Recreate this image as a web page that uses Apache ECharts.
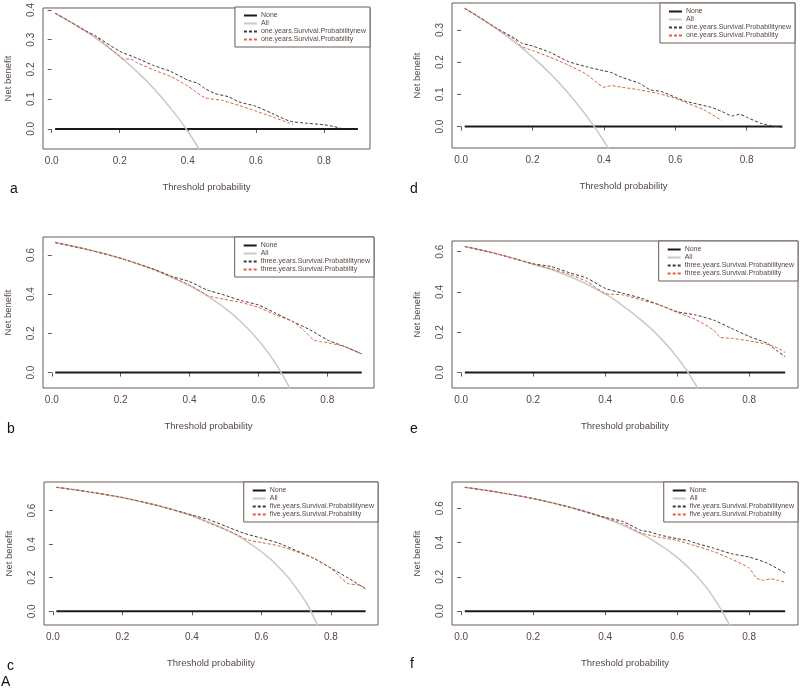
<!DOCTYPE html>
<html>
<head>
<meta charset="utf-8">
<script src="https://cdn.jsdelivr.net/npm/echarts@6/dist/echarts.min.js"></script>
<style>
html,body{margin:0;padding:0;background:#fff;}
#chart{width:800px;height:690px;}
</style>
</head>
<body>
<div id="chart"></div>
<script>
// ---------- Data ----------
const none_x = [0.01, 0.9];
const none_y = [0, 0];

// Panel a : one year (left)
const a_all_x = [0.01,0.05,0.1,0.15,0.2,0.25,0.3,0.35,0.4,0.45,0.5];
const a_all_y = [0.389,0.363,0.328,0.288,0.244,0.193,0.136,0.069,-0.008,-0.10,-0.21];
const a_new_x = [0.01,0.05,0.1,0.13,0.2,0.25,0.3,0.35,0.4,0.43,0.45,0.48,0.52,0.55,0.6,0.65,0.7,0.75,0.8,0.83,0.85];
const a_new_y = [0.389,0.363,0.330,0.312,0.261,0.238,0.213,0.193,0.164,0.153,0.136,0.119,0.108,0.091,0.076,0.051,0.026,0.019,0.014,0.008,0.002];
const a_old_x = [0.01,0.05,0.1,0.13,0.2,0.21,0.23,0.25,0.3,0.35,0.4,0.45,0.5,0.55,0.6,0.65,0.7,0.71];
const a_old_y = [0.389,0.363,0.328,0.310,0.244,0.235,0.235,0.223,0.198,0.176,0.144,0.105,0.096,0.079,0.060,0.040,0.019,0.015];

// Panel d : one year (right)
const d_all_x = [0.01,0.05,0.1,0.15,0.2,0.25,0.3,0.35,0.4,0.45,0.5];
const d_all_y = [0.367,0.340,0.303,0.262,0.216,0.164,0.104,0.035,-0.045,-0.140,-0.254];
const d_new_x = [0.01,0.05,0.1,0.15,0.17,0.2,0.25,0.3,0.35,0.4,0.42,0.45,0.5,0.53,0.56,0.6,0.63,0.7,0.73,0.76,0.78,0.8,0.84,0.87,0.9];
const d_new_y = [0.367,0.340,0.305,0.274,0.259,0.250,0.230,0.202,0.186,0.173,0.168,0.153,0.134,0.114,0.109,0.091,0.078,0.060,0.047,0.033,0.038,0.029,0.010,0.002,-0.002];
const d_old_x = [0.01,0.05,0.1,0.15,0.17,0.2,0.25,0.3,0.35,0.38,0.4,0.42,0.45,0.5,0.55,0.6,0.63,0.68,0.73];
const d_old_y = [0.367,0.340,0.304,0.270,0.248,0.236,0.215,0.191,0.163,0.137,0.122,0.127,0.122,0.114,0.103,0.088,0.074,0.052,0.019];

// Panel b : three years (left)
const b_all_x = [0.01,0.1,0.2,0.3,0.4,0.45,0.5,0.55,0.6,0.65,0.7,0.75];
const b_all_y = [0.663,0.629,0.583,0.523,0.443,0.393,0.332,0.258,0.165,0.046,-0.113,-0.336];
const b_new_x = [0.01,0.1,0.2,0.3,0.35,0.4,0.45,0.5,0.55,0.6,0.65,0.7,0.75,0.8,0.85,0.9];
const b_new_y = [0.663,0.629,0.583,0.525,0.490,0.464,0.422,0.396,0.367,0.345,0.303,0.260,0.218,0.167,0.133,0.095];
const b_old_x = [0.01,0.1,0.2,0.3,0.35,0.4,0.45,0.46,0.5,0.55,0.6,0.65,0.7,0.73,0.76,0.78,0.8,0.85,0.9];
const b_old_y = [0.663,0.629,0.583,0.522,0.485,0.447,0.396,0.388,0.374,0.357,0.333,0.294,0.260,0.218,0.167,0.158,0.153,0.133,0.095];

// Panel e : three years (right)
const e_all_x = [0.01,0.1,0.2,0.3,0.4,0.45,0.5,0.55,0.6,0.65,0.7];
const e_all_y = [0.626,0.589,0.538,0.478,0.390,0.330,0.260,0.178,0.075,-0.057,-0.233];
const e_new_x = [0.01,0.1,0.2,0.25,0.3,0.35,0.4,0.45,0.5,0.55,0.6,0.65,0.7,0.75,0.8,0.85,0.88,0.9];
const e_new_y = [0.626,0.589,0.540,0.526,0.496,0.468,0.418,0.393,0.369,0.336,0.302,0.286,0.261,0.220,0.179,0.145,0.104,0.079];
const e_old_x = [0.01,0.1,0.2,0.25,0.3,0.35,0.4,0.45,0.5,0.55,0.6,0.65,0.7,0.72,0.75,0.8,0.85,0.88,0.9];
const e_old_y = [0.626,0.589,0.538,0.515,0.488,0.451,0.393,0.385,0.360,0.336,0.298,0.264,0.212,0.175,0.170,0.157,0.140,0.121,0.099];

// Panel c : five years (left)
const c_all_x = [0.01,0.1,0.2,0.3,0.4,0.5,0.55,0.6,0.65,0.7,0.75,0.8];
const c_all_y = [0.739,0.713,0.678,0.631,0.570,0.484,0.427,0.355,0.263,0.140,-0.032,-0.290];
const c_new_x = [0.01,0.1,0.2,0.3,0.4,0.45,0.5,0.55,0.6,0.65,0.7,0.75,0.8,0.85,0.9];
const c_new_y = [0.739,0.713,0.678,0.631,0.574,0.545,0.505,0.465,0.436,0.406,0.362,0.317,0.257,0.198,0.133];
const c_old_x = [0.01,0.1,0.2,0.3,0.4,0.45,0.5,0.55,0.56,0.6,0.65,0.7,0.75,0.8,0.83,0.85,0.88,0.9];
const c_old_y = [0.739,0.713,0.678,0.631,0.570,0.525,0.485,0.436,0.426,0.410,0.390,0.356,0.317,0.257,0.198,0.164,0.158,0.139];

// Panel f : five years (right)
const f_all_x = [0.01,0.1,0.2,0.3,0.4,0.5,0.55,0.6,0.65,0.7,0.75];
const f_all_y = [0.722,0.694,0.656,0.607,0.542,0.450,0.389,0.313,0.214,0.083,-0.100];
const f_new_x = [0.01,0.1,0.2,0.3,0.4,0.45,0.5,0.52,0.55,0.6,0.63,0.65,0.7,0.75,0.8,0.85,0.9];
const f_new_y = [0.722,0.694,0.656,0.607,0.547,0.522,0.470,0.464,0.445,0.422,0.412,0.397,0.368,0.335,0.315,0.280,0.222];
const f_old_x = [0.01,0.1,0.2,0.3,0.4,0.45,0.5,0.55,0.6,0.65,0.7,0.75,0.8,0.82,0.84,0.86,0.88,0.9];
const f_old_y = [0.722,0.694,0.656,0.605,0.542,0.509,0.455,0.431,0.412,0.381,0.348,0.304,0.251,0.193,0.180,0.188,0.180,0.168];

// Tick labels
const xTicks = [0.0, 0.2, 0.4, 0.6, 0.8];
const yTicksOne_a = [0.0, 0.1, 0.2, 0.3, 0.4];
const yTicksOne_d = [0.0, 0.1, 0.2, 0.3];
const yTicksMulti = [0.0, 0.2, 0.4, 0.6];

// Labels
const xLabel = 'Threshold probability';
const yLabel = 'Net benefit';
const nameNone = 'None';
const nameAll = 'All';
const oneNew = 'one.years.Survival.Probabilitynew';
const oneOld = 'one.years.Survival.Probability';
const threeNew = 'three.years.Survival.Probabilitynew';
const threeOld = 'three.years.Survival.Probability';
const fiveNew = 'five.years.Survival.Probabilitynew';
const fiveOld = 'five.years.Survival.Probability';

// ---------- Layout ----------
const FONT = 'Liberation Sans, Arial, sans-serif';
const BOX = '#6a5a55';
const TXT = '#574843';
const panels = [
  {letter:'a', grid:{left:43, top:7, width:327, height:142}, yt:yTicksOne_a, nNew:oneNew, nOld:oneOld,
   all:[a_all_x,a_all_y], nw:[a_new_x,a_new_y], od:[a_old_x,a_old_y], lp:[15,190], leg:{right:430, top:7}},
  {letter:'d', grid:{left:452, top:3, width:343, height:145}, yt:yTicksOne_d, nNew:oneNew, nOld:oneOld,
   all:[d_all_x,d_all_y], nw:[d_new_x,d_new_y], od:[d_old_x,d_old_y], lp:[415,190], leg:{right:5, top:3}},
  {letter:'b', grid:{left:43, top:237, width:331, height:151}, yt:yTicksMulti, nNew:threeNew, nOld:threeOld,
   all:[b_all_x,b_all_y], nw:[b_new_x,b_new_y], od:[b_old_x,b_old_y], lp:[12,430], leg:{right:426, top:237}},
  {letter:'e', grid:{left:452, top:241, width:346, height:147}, yt:yTicksMulti, nNew:threeNew, nOld:threeOld,
   all:[e_all_x,e_all_y], nw:[e_new_x,e_new_y], od:[e_old_x,e_old_y], lp:[415,430], leg:{right:2, top:241}},
  {letter:'c', grid:{left:44, top:482, width:334, height:143}, yt:yTicksMulti, nNew:fiveNew, nOld:fiveOld,
   all:[c_all_x,c_all_y], nw:[c_new_x,c_new_y], od:[c_old_x,c_old_y], lp:[12,667], leg:{right:422, top:482}},
  {letter:'f', grid:{left:452, top:482, width:346, height:143}, yt:yTicksMulti, nNew:fiveNew, nOld:fiveOld,
   all:[f_all_x,f_all_y], nw:[f_new_x,f_new_y], od:[f_old_x,f_old_y], lp:[415,665], leg:{right:2, top:482}}
];

const zip = (xs, ys) => xs.map((x, i) => [x, ys[i]]);
const fmt = v => v.toFixed(1);

const grids = [], xAxes = [], yAxes = [], series = [], legends = [], graphics = [];
const xr = 0.9 - 0.01;
const xMin = 0.01 - 0.04 * xr, xMax = 0.9 + 0.04 * xr;

panels.forEach((p, i) => {
  grids.push(Object.assign({show:true, borderColor:BOX, borderWidth:1, backgroundColor:'transparent', containLabel:false}, p.grid));
  xAxes.push({
    type:'value', gridIndex:i, min:xMin, max:xMax,
    axisLine:{show:false}, splitLine:{show:false},
    axisTick:{show:true, inside:false, length:4, lineStyle:{color:BOX}, customValues:xTicks},
    axisLabel:{show:true, customValues:xTicks, formatter:fmt, color:TXT, fontSize:10, fontFamily:FONT, margin:7},
    name:xLabel, nameLocation:'middle', nameGap:33,
    nameTextStyle:{color:TXT, fontSize:9.5, fontFamily:FONT}
  });
  const ymax = Math.max(...p.all[1], ...p.nw[1], ...p.od[1]);
  const ymin = -0.05;
  const yr = ymax - ymin;
  yAxes.push({
    type:'value', gridIndex:i, min:ymin - 0.04 * yr, max:ymax + 0.04 * yr,
    axisLine:{show:false}, splitLine:{show:false},
    axisTick:{show:true, inside:false, length:4, lineStyle:{color:BOX}, customValues:p.yt},
    axisLabel:{show:true, customValues:p.yt, formatter:fmt, color:TXT, fontSize:10, fontFamily:FONT, rotate:90, margin:7},
    name:yLabel, nameLocation:'middle', nameGap:30,
    nameTextStyle:{color:TXT, fontSize:9.5, fontFamily:FONT}
  });
  series.push({name:nameNone, type:'line', xAxisIndex:i, yAxisIndex:i, data:zip(none_x, none_y),
    showSymbol:false, symbol:'none', lineStyle:{color:'#1a1a1a', width:2}, itemStyle:{color:'#1a1a1a'}, z:2, animation:false});
  series.push({name:nameAll, type:'line', xAxisIndex:i, yAxisIndex:i, data:zip(p.all[0], p.all[1]), smooth:true,
    showSymbol:false, symbol:'none', lineStyle:{color:'#c9c9c9', width:1.5}, itemStyle:{color:'#c9c9c9'}, z:3, animation:false, clip:true});
  series.push({name:p.nNew, type:'line', xAxisIndex:i, yAxisIndex:i, data:zip(p.nw[0], p.nw[1]), smooth:0.2,
    showSymbol:false, symbol:'none', lineStyle:{color:'#3a3a3a', width:1, type:[3,2]}, itemStyle:{color:'#3a3a3a'}, z:4, animation:false});
  series.push({name:p.nOld, type:'line', xAxisIndex:i, yAxisIndex:i, data:zip(p.od[0], p.od[1]), smooth:0.2,
    showSymbol:false, symbol:'none', lineStyle:{color:'#e0603f', width:1, type:[3,2]}, itemStyle:{color:'#e0603f'}, z:5, animation:false});
  legends.push(Object.assign({
    orient:'vertical', selectedMode:false, data:[nameNone, nameAll, p.nNew, p.nOld],
    itemWidth:13, itemHeight:8, itemGap:1, backgroundColor:'#fff',
    itemStyle:{color:'rgba(0,0,0,0)', borderColor:'rgba(0,0,0,0)', borderWidth:0, opacity:0},
    borderColor:BOX, borderWidth:1, padding:[5,4,4,8],
    textStyle:{fontSize:7, color:TXT, fontFamily:FONT, padding:[0,0,0,-1]}
  }, p.leg));
  graphics.push({type:'text', left:p.lp[0]-5, top:p.lp[1]-8,
    style:{text:p.letter, font:'14px Liberation Sans, Arial, sans-serif', fill:'#111'}});
});
graphics.push({type:'text', left:1, top:675, style:{text:'A', font:'14px Liberation Sans, Arial, sans-serif', fill:'#111'}});

const chart = echarts.init(document.getElementById('chart'), null, {renderer:'canvas'});
chart.setOption({
  animation:false,
  backgroundColor:'#fff',
  grid:grids, xAxis:xAxes, yAxis:yAxes, series:series, legend:legends, graphic:graphics
});
</script>
</body>
</html>
